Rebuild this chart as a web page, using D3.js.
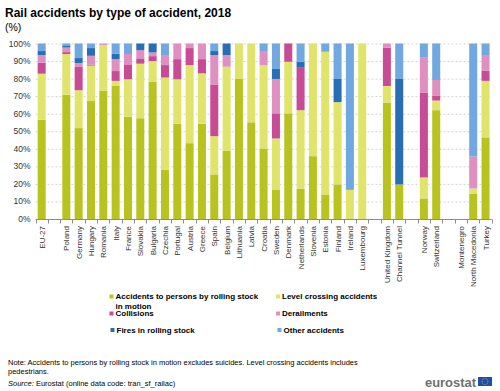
<!DOCTYPE html>
<html><head><meta charset="utf-8">
<script src="https://cdn.jsdelivr.net/npm/d3@7"></script>
<style>body{margin:0;background:#fff}svg{display:block;font-family:Arial,"Liberation Sans",sans-serif}</style>
</head><body><svg id="c" width="500" height="391"></svg>
<script>
const categories = ["EU-27","","Poland","Germany","Hungary","Romania","Italy","France","Slovakia","Bulgaria","Czechia","Portugal","Austria","Greece","Spain","Belgium","Lithuania","Latvia","Croatia","Sweden","Denmark","Netherlands","Slovenia","Estonia","Finland","Ireland","Luxembourg","","United Kingdom","Channel Tunnel","","Norway","Switzerland","","Montenegro","North Macedonia","Turkey"];
const seriesNames = ["Accidents to persons by rolling stock in motion","Level crossing accidents","Collisions","Derailments","Fires in rolling stock","Other accidents"];
const persons    = [56.6,null,70.8,51.8,67.2,73.2,76.0,58.3,57.4,78.3,28.1,54.3,43.2,54.3,25.4,38.8,79.8,55.1,40.2,16.8,60.2,17.2,35.8,14.0,19.7,0,0,null,66.2,19.7,null,11.7,62.0,null,null,14.3,46.5];
const levelCross = [26.2,null,23.2,21.6,20.2,26.0,2.7,21.3,31.1,11.7,52.5,25.3,44.5,28.7,21.8,48.0,20.2,44.9,47.5,29.1,29.4,44.8,64.2,81.3,46.9,16.6,100,null,9.6,0,null,12.0,5.5,null,null,3.1,32.2];
const collisions = [6.3,null,1.1,13.2,0.5,0,5.6,8.5,3.0,2.8,7.1,11.5,9.7,8.1,29.2,0,0,0,0,14.3,10.4,24.2,0,0,0,0,0,null,21.9,0,null,48.4,2.9,null,null,0,5.8];
const derailments= [4.3,null,2.6,2.3,5.1,0.8,6.8,5.9,4.7,2.1,5.3,8.9,2.6,8.9,17.0,6.6,0,0,8.0,19.6,0,0,0,0,0,0,0,null,2.3,0,null,19.8,8.8,null,null,18.2,8.5];
const fires      = [2.3,null,1.2,2.8,4.4,0,3.1,0,3.8,5.1,0,0,0,0,2.3,6.6,0,0,0,5.7,0,3.4,0,0,13.2,0,0,null,0,60.1,null,0,0,null,null,0,0];
const other      = [4.3,null,1.1,8.3,2.6,0,5.8,6.0,0,0,7.0,0,0,0,4.3,0,0,0,4.3,14.5,0,10.4,0,4.7,20.2,83.4,0,null,0,20.2,null,8.1,20.8,null,null,64.4,7.0];
const yTicks = [0,10,20,30,40,50,60,70,80,90,100];
const colors = ["#b9c31f","#e1e46b","#c84b96","#e08fc1","#286eb4","#71a8df"];

const seriesVals = [persons, levelCross, collisions, derailments, fires, other];
const keys = ["s0","s1","s2","s3","s4","s5"];
const rows = categories.map((c,i)=>{const r={i:i,name:c,has:persons[i]!==null};keys.forEach((k,j)=>r[k]=seriesVals[j][i]||0);return r;});

const svg = d3.select("#c");
const x = d3.scaleBand().domain(d3.range(categories.length)).range([35.5,491.7]).paddingInner(0.35).paddingOuter(0.175);
const y = d3.scaleLinear().domain([0,100]).range([219,43.5]);

// title
svg.append("text").attr("x",5).attr("y",17).attr("font-size",12).attr("font-weight","bold").attr("fill","#000").text("Rail accidents by type of accident, 2018");
svg.append("text").attr("x",5).attr("y",31).attr("font-size",10.5).attr("fill","#000").text("(%)");

// grid
svg.append("g").selectAll("line").data(yTicks.filter(d=>d>0)).join("line")
  .attr("x1",35.5).attr("x2",491.7).attr("y1",d=>y(d)+0.5).attr("y2",d=>y(d)+0.5)
  .attr("stroke","#c8c8c8").attr("stroke-width",0.8).attr("stroke-dasharray","2,2");
svg.append("g").selectAll("text").data(yTicks).join("text")
  .attr("x",30.5).attr("y",d=>y(d)+3).attr("text-anchor","end").attr("font-size",8.5).attr("fill","#333")
  .text(d=>d+"%");

// bars
const stacked = d3.stack().keys(keys)(rows.filter(r=>r.has));
svg.append("g").selectAll("g").data(stacked).join("g").attr("fill",(d,i)=>colors[i])
  .selectAll("rect").data(d=>d.filter(p=>p[1]-p[0]>0)).join("rect")
  .attr("x",d=>x(d.data.i)).attr("width",x.bandwidth())
  .attr("y",d=>y(d[1])).attr("height",d=>y(d[0])-y(d[1]));

// baseline and ticks
svg.append("line").attr("x1",35.5).attr("x2",491.7).attr("y1",219.5).attr("y2",219.5).attr("stroke","#8c8c8c").attr("stroke-width",1);
svg.append("g").selectAll("line").data(d3.range(categories.length+1)).join("line")
  .attr("x1",i=>Math.round(35.5+i*x.step())+0.5).attr("x2",i=>Math.round(35.5+i*x.step())+0.5)
  .attr("y1",219.5).attr("y2",223.5).attr("stroke","#8c8c8c").attr("stroke-width",1);

// x labels
svg.append("g").selectAll("text").data(rows.filter(r=>r.name!=="")).join("text")
  .attr("transform",d=>`translate(${x(d.i)+x.bandwidth()/2+3},226) rotate(-90)`)
  .attr("text-anchor","end").attr("font-size",8).attr("fill","#333").text(d=>d.name);

// legend
const leg = [
  {i:0,x:109.5,y:299,lines:["Accidents to persons by rolling stock","in motion"]},
  {i:1,x:276,y:299,lines:["Level crossing accidents"]},
  {i:2,x:109.5,y:316,lines:["Collisions"]},
  {i:3,x:276,y:316,lines:["Derailments"]},
  {i:4,x:110.5,y:332.5,lines:["Fires in rolling stock"]},
  {i:5,x:277.5,y:332.5,lines:["Other accidents"]}
];
const lg = svg.append("g").selectAll("g").data(leg).join("g");
lg.append("rect").attr("x",d=>d.x).attr("y",d=>d.y-4.5).attr("width",4).attr("height",4).attr("fill",d=>colors[d.i]);
lg.each(function(d){
  const g=d3.select(this);
  d.lines.forEach((l,k)=>g.append("text").attr("x",d.x+6).attr("y",d.y+k*9.5).attr("font-size",8).attr("font-weight","bold").attr("fill","#000").text(l));
});

// notes
svg.append("text").attr("x",8).attr("y",365).attr("font-size",7.5).attr("fill","#000")
  .text("Note: Accidents to persons by rolling stock in motion excludes  suicides. Level crossing accidents includes");
svg.append("text").attr("x",8).attr("y",374).attr("font-size",7.5).attr("fill","#000").text("pedestrians.");
const src = svg.append("text").attr("x",8).attr("y",386).attr("font-size",7.5).attr("fill","#000");
src.append("tspan").attr("font-style","italic").text("Source:");
src.append("tspan").text(" Eurostat (online data code: tran_sf_railac)");

// logo
svg.append("text").attr("x",425).attr("y",386.5).attr("font-size",13.5).attr("font-weight","bold").attr("fill","#707070")
  .attr("textLength",51).attr("lengthAdjust","spacingAndGlyphs").text("eurostat");
svg.append("rect").attr("x",478).attr("y",377).attr("width",14).attr("height",9).attr("fill","#1f4ea8");
svg.append("g").selectAll("circle").data(d3.range(12)).join("circle")
  .attr("cx",i=>485+3*Math.cos(i*Math.PI/6)).attr("cy",i=>381.5+3*Math.sin(i*Math.PI/6)).attr("r",0.45).attr("fill","#ffd617");
</script></body></html>
